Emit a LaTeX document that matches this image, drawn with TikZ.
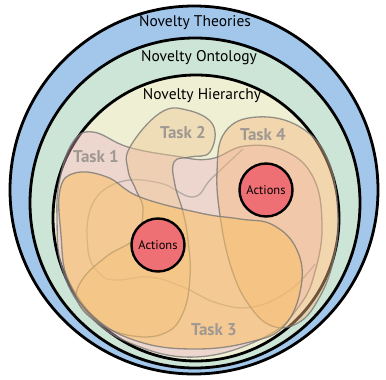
\documentclass[tikz,border=0pt]{standalone}
\usepackage{fontspec}
\setmainfont{PT Sans}
\definecolor{theorybg}{RGB}{162,199,235}
\definecolor{ontologybg}{RGB}{205,229,214}
\definecolor{hierarchybg}{RGB}{239,240,211}
\definecolor{taskpink}{RGB}{236,176,196}
\definecolor{tasktan}{RGB}{240,200,150}
\definecolor{taskpeach}{RGB}{246,184,128}
\definecolor{taskorange}{RGB}{250,192,100}
\definecolor{actionred}{RGB}{238,112,116}
\definecolor{tasktext}{RGB}{160,152,146}

\begin{document}
\begin{tikzpicture}[x=1pt,y=-1pt,
    ring/.style={draw=black,line width=2.8pt},
    task/.style={draw=black!55,draw opacity=.75,line width=1.3pt},
    tasklabel/.style={text=tasktext,font=\fontsize{17}{17}\selectfont\bfseries},
    level/.style={font=\fontsize{15.5}{16}\selectfont},
    actions/.style={circle,draw=black,line width=2.4pt,fill=actionred,minimum size=53pt,inner sep=0pt,font=\fontsize{12.5}{13}\selectfont}]
    \useasboundingbox (0,0) rectangle (386,380);
    % nested levels
    \draw[ring,fill=theorybg] (194,190) circle (184);
    \draw[ring,fill=ontologybg] (195,203) circle (165);
    \draw[ring,fill=hierarchybg] (196,218) circle (143);
    % Task 1
    \draw[task,fill=taskpink,fill opacity=.4] plot[smooth cycle, tension=.7] coordinates {(60,178) (73,142) (93,132) (128,147) (175,156) (210,159) (245,146) (285,151) (313,177) (322,222) (316,268) (300,305) (265,337) (196,357) (130,343) (86,312) (62,268) (57,218)};
    \draw[task,draw opacity=.45] plot[smooth, tension=.7] coordinates {(243,149) (212,178) (193,197) (160,183) (120,182) (92,205) (88,250) (100,274) (117,280) (150,277) (183,287) (217,303) (253,307) (290,290) (315,264)};
    % Task 2
    \draw[task,fill=tasktan,fill opacity=.45] plot[smooth cycle, tension=.7] coordinates {(160,113) (187,110) (213,125) (210,152) (190,157) (174,162) (175,185) (183,212) (188,240) (190,277) (183,313) (165,333) (133,336) (100,324) (78,302) (82,280) (107,256) (135,238) (143,210) (136,190) (128,170) (130,147)};
    % Task 4
    \draw[task,fill=taskpeach,fill opacity=.45] plot[smooth cycle, tension=.7] coordinates {(257,117) (300,127) (328,160) (338,215) (333,262) (318,300) (298,323) (272,326) (249,305) (232,270) (221,222) (217,172) (225,132)};
    % Task 3
    \draw[task,fill=taskorange,fill opacity=.55] plot[smooth cycle, tension=.7] coordinates {(60,190) (75,173) (107,177) (140,197) (200,213) (240,219) (273,225) (297,250) (301,287) (284,326) (250,342) (196,349) (140,342) (95,318) (68,280) (61,235)};
    % labels
    \node[level] (theories) at (195,23) {Novelty Theories};
    \node[level] (ontology) at (199,58) {Novelty Ontology};
    \node[level] (hierarchy) at (202,96) {Novelty Hierarchy};
    \node[tasklabel] (task1) at (96,157) {Task 1};
    \node[tasklabel] (task2) at (183,133) {Task 2};
    \node[tasklabel] (task4) at (263,135) {Task 4};
    \node[tasklabel] (task3) at (214,330) {Task 3};
    \node[actions] (actionsA) at (266,190) {Actions};
    \node[actions] (actionsB) at (158,245) {Actions};
\end{tikzpicture}
\end{document}
